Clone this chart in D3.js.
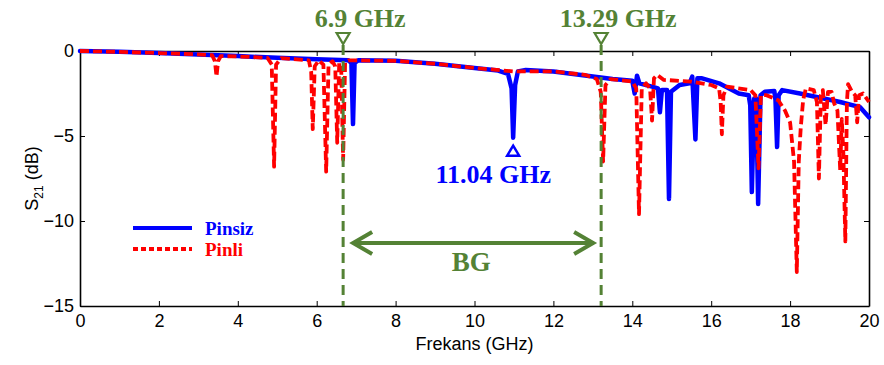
<!DOCTYPE html>
<html>
<head>
<meta charset="utf-8">
<script src="https://cdn.jsdelivr.net/npm/d3@7"></script>
<style>
  body { margin: 0; background: #fff; }
  .axis text { font-family: Arial, "Liberation Sans", sans-serif; font-size: 18px; fill: #000; }
  .axis path, .axis line { stroke: #000; }
  .ann { font-family: "Times New Roman", "Liberation Serif", serif; font-weight: bold; }
</style>
</head>
<body>
<svg id="chart" width="884" height="365"></svg>
<script>
// S21 (dB) vs frequency (GHz)
var pinsiz = [
  [0,0],[1,-0.05],[2,-0.12],[3,-0.2],[4,-0.3],[5,-0.4],[6,-0.48],[6.8,-0.55],[6.88,-0.7],[6.92,-4.3],[6.96,-0.7],
  [7.05,-0.55],[8,-0.58],[9,-0.75],[10,-1.0],[10.6,-1.15],[10.85,-1.35],[10.94,-2.2],[10.98,-5.1],[11.03,-2.0],
  [11.1,-1.2],[11.3,-1.12],[12,-1.2],[12.5,-1.35],[13,-1.5],[13.5,-1.65],[14,-1.75],[14.06,-2.5],[14.12,-1.45],
  [14.18,-1.9],[14.5,-2.1],[14.65,-2.2],[14.7,-3.6],[14.75,-2.3],[14.88,-2.3],[14.93,-8.7],[14.98,-2.4],[15.2,-2.0],
  [15.45,-1.9],[15.52,-1.5],[15.6,-5.2],[15.65,-1.6],[15.75,-1.6],[16.2,-1.9],[16.7,-2.5],[16.95,-2.6],[16.99,-3.2],
  [17.03,-8.3],[17.09,-2.8],[17.14,-2.8],[17.19,-9.0],[17.25,-2.6],[17.36,-2.4],[17.6,-2.35],[17.63,-2.9],[17.67,-5.65],
  [17.71,-2.6],[17.8,-2.3],[18.25,-2.5],[18.76,-2.75],[19.27,-3.0],[19.77,-3.3],[20,-3.9]
];
var pinli = [
  [0,0],[1,-0.05],[2,-0.12],[3,-0.2],[3.35,-0.25],[3.42,-0.6],[3.46,-1.5],[3.5,-0.6],[3.57,-0.3],[4,-0.32],
  [4.75,-0.4],[4.86,-0.8],[4.92,-6.8],[4.97,-0.8],[5.1,-0.42],[5.8,-0.55],[5.86,-1.2],[5.9,-4.6],[5.95,-0.9],
  [6.05,-0.55],[6.17,-0.8],[6.24,-7.1],[6.3,-0.8],[6.4,-0.6],[6.47,-0.9],[6.52,-5.4],[6.57,-0.7],[6.62,-0.8],
  [6.67,-6.4],[6.72,-0.7],[6.8,-0.55],[7,-0.55],[8,-0.58],[9,-0.75],[10,-1.0],[11,-1.2],[12,-1.2],[12.8,-1.4],
  [13.1,-1.65],[13.2,-2.4],[13.26,-6.5],[13.32,-2.0],[13.45,-1.65],[14,-1.8],[14.1,-2.2],[14.17,-9.6],[14.24,-2.2],
  [14.35,-1.9],[14.45,-2.2],[14.5,-4.1],[14.55,-1.6],[14.63,-1.4],[14.8,-1.7],[15.5,-1.8],[16,-2.0],[16.2,-2.2],
  [16.24,-3.0],[16.27,-4.9],[16.31,-2.6],[16.4,-2.1],[17,-2.3],[17.12,-2.6],[17.2,-6.9],[17.26,-2.6],[17.4,-2.6],
  [17.7,-2.9],[17.87,-3.5],[18.0,-4.2],[18.1,-6.5],[18.17,-13.0],[18.22,-6.5],[18.27,-4.5],[18.33,-2.9],[18.4,-2.2],
  [18.6,-2.3],[18.68,-3.0],[18.73,-7.5],[18.78,-2.6],[18.83,-2.3],[18.9,-4.35],[18.96,-2.4],[19.05,-2.4],[19.12,-3.1],
  [19.2,-3.5],[19.27,-7.0],[19.31,-4.0],[19.35,-6.0],[19.4,-11.2],[19.44,-3.0],[19.47,-1.95],[19.57,-2.4],[19.65,-2.6],
  [19.7,-4.2],[19.75,-2.6],[19.85,-2.5],[20,-3.0]
];
var xTicks = [0, 2, 4, 6, 8, 10, 12, 14, 16, 18, 20];
var yTicks = [0, -5, -10, -15];
var bandEdges = [6.67, 13.21];           // where the dashed markers sit
var bandLabels = ["6.9 GHz", "13.29 GHz"];
var dipMark = [10.98, -5.1];
var dipLabel = "11.04 GHz";
var seriesNames = ["Pinsiz", "Pinli"];

var svg = d3.select("#chart"),
    margin = {top: 51, right: 15, bottom: 59, left: 80},
    width = +svg.attr("width") - margin.left - margin.right,
    height = +svg.attr("height") - margin.top - margin.bottom;

var x = d3.scaleLinear().domain([0, 20]).range([0, width]);
var y = d3.scaleLinear().domain([-15, 0]).range([height, 0]);

var g = svg.append("g")
    .attr("transform", "translate(" + margin.left + "," + margin.top + ")");

var green = "#548235";

// axes, box style with inward ticks
g.append("g").attr("class", "axis")
    .attr("transform", "translate(0," + height + ")")
    .call(d3.axisBottom(x).tickValues(xTicks).tickSizeInner(-5).tickSizeOuter(0).tickPadding(8))
    .call(function(a) { a.select(".domain").attr("stroke-width", 1.6); });
g.append("g").attr("class", "axis")
    .call(d3.axisTop(x).tickValues(xTicks).tickSizeInner(-5).tickSizeOuter(0).tickFormat(""))
    .call(function(a) { a.select(".domain").attr("stroke-width", 1.6); });
g.append("g").attr("class", "axis")
    .call(d3.axisLeft(y).tickValues(yTicks).tickSizeInner(-5).tickSizeOuter(0).tickPadding(6)
        .tickFormat(d3.format("d")))
    .call(function(a) { a.select(".domain").attr("stroke-width", 1.6); });
g.append("g").attr("class", "axis")
    .attr("transform", "translate(" + width + ",0)")
    .call(d3.axisRight(y).tickValues(yTicks).tickSizeInner(-5).tickSizeOuter(0).tickFormat(""))
    .call(function(a) { a.select(".domain").attr("stroke-width", 1.6); });

// axis titles
svg.append("text")
    .attr("x", margin.left + width / 2).attr("y", 350)
    .attr("text-anchor", "middle")
    .style("font-family", "Arial, 'Liberation Sans', sans-serif").style("font-size", "18px")
    .text("Frekans (GHz)");
var yt = svg.append("text")
    .attr("transform", "translate(38," + (margin.top + height / 2) + ") rotate(-90)")
    .attr("text-anchor", "middle")
    .style("font-family", "Arial, 'Liberation Sans', sans-serif").style("font-size", "18px");
yt.append("tspan").text("S");
yt.append("tspan").attr("dy", 5).style("font-size", "12px").text("21");
yt.append("tspan").attr("dy", -5).text(" (dB)");

var line = d3.line()
    .x(function(d) { return x(d[0]); })
    .y(function(d) { return y(d[1]); });

g.append("path").datum(pinsiz)
    .attr("fill", "none").attr("stroke", "#0000ff").attr("stroke-width", 4.5)
    .attr("stroke-linejoin", "round").attr("stroke-linecap", "round")
    .attr("d", line);
g.append("path").datum(pinli)
    .attr("fill", "none").attr("stroke", "#ff0000").attr("stroke-width", 3.8)
    .attr("stroke-dasharray", "9,4").attr("stroke-linejoin", "round")
    .attr("d", line);

// band-gap markers
bandEdges.forEach(function(f, i) {
    var px = x(f);
    g.append("line")
        .attr("x1", px).attr("x2", px).attr("y1", -6).attr("y2", height)
        .attr("stroke", green).attr("stroke-width", 3).attr("stroke-dasharray", "10,6");
    g.append("path")
        .attr("d", "M" + (px - 6.5) + ",-18 L" + (px + 6.5) + ",-18 L" + px + ",-7 Z")
        .attr("fill", "#fff").attr("stroke", green).attr("stroke-width", 2.2);
    g.append("text").attr("class", "ann")
        .attr("x", px + 17).attr("y", -24)
        .attr("text-anchor", "middle")
        .style("font-size", "26px").attr("fill", green)
        .text(bandLabels[i]);
});

// BG double arrow
var ay = y(-11.3), ax1 = x(bandEdges[0]) + 10, ax2 = x(bandEdges[1]) - 8;
g.append("line").attr("x1", ax1).attr("x2", ax2).attr("y1", ay).attr("y2", ay)
    .attr("stroke", green).attr("stroke-width", 4);
g.append("path")
    .attr("d", "M" + (ax1 + 19) + "," + (ay - 11) + " L" + ax1 + "," + ay + " L" + (ax1 + 19) + "," + (ay + 11) +
               " M" + (ax2 - 19) + "," + (ay - 11) + " L" + ax2 + "," + ay + " L" + (ax2 - 19) + "," + (ay + 11))
    .attr("fill", "none").attr("stroke", green).attr("stroke-width", 4);
g.append("text").attr("class", "ann")
    .attr("x", (ax1 + ax2) / 2 - 2).attr("y", ay + 28)
    .attr("text-anchor", "middle").style("font-size", "27px").attr("fill", green)
    .text("BG");

// 11.04 GHz dip marker
var dx = x(dipMark[0]), dy = y(dipMark[1]);
g.append("path")
    .attr("d", "M" + dx + "," + (dy + 8) + " L" + (dx + 6) + "," + (dy + 18) + " L" + (dx - 6) + "," + (dy + 18) + " Z")
    .attr("fill", "#fff").attr("stroke", "#0000ff").attr("stroke-width", 2.5);
g.append("text").attr("class", "ann")
    .attr("x", dx - 20).attr("y", dy + 45)
    .attr("text-anchor", "middle").style("font-size", "26px").attr("fill", "#0000ff")
    .text(dipLabel);

// legend
var legend = g.append("g").attr("transform", "translate(53,177)");
legend.append("line").attr("x1", 0).attr("x2", 59).attr("y1", 0).attr("y2", 0)
    .attr("stroke", "#0000ff").attr("stroke-width", 4);
legend.append("text").attr("class", "ann").attr("x", 72).attr("y", 7)
    .style("font-size", "19px").attr("fill", "#0000ff").text(seriesNames[0]);
legend.append("line").attr("x1", 0).attr("x2", 59).attr("y1", 21).attr("y2", 21)
    .attr("stroke", "#ff0000").attr("stroke-width", 4).attr("stroke-dasharray", "5,3");
legend.append("text").attr("class", "ann").attr("x", 72).attr("y", 28)
    .style("font-size", "19px").attr("fill", "#ff0000").text(seriesNames[1]);
</script>
</body>
</html>
